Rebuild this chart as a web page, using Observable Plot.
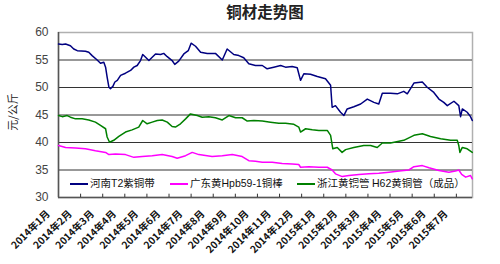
<!DOCTYPE html>
<html>
<head>
<meta charset="utf-8">
<script src="https://cdn.jsdelivr.net/npm/d3@7"></script>
<script src="https://cdn.jsdelivr.net/npm/@observablehq/plot@0.6"></script>
<style>
  body { margin: 0; background: #fff; font-family: "Liberation Sans", Arial, sans-serif; }
  #wrap { position: relative; width: 500px; height: 264px; overflow: hidden; }
  #title { height: 24px; line-height: 26px; text-align: center; padding-left: 30px; font: bold 15.5px "Noto Sans CJK SC", sans-serif; color: #222; }
  #ylab { position: absolute; left: 3px; top: 104px; transform: rotate(-90deg); transform-origin: center; font: 11px "Noto Sans CJK SC", sans-serif; color: #222; width: 40px; text-align: center; margin-left: -11px; }
  .leg { position: absolute; top: 175px; font: 10.5px "Noto Sans CJK SC", sans-serif; color: #111; line-height: 16px; white-space: nowrap; }
  .leg span.sw { display: inline-block; width: 18px; height: 2px; vertical-align: middle; margin-right: 2px; }
  .leg span.lt { font-family: "Liberation Sans", Arial, sans-serif; font-size: 10.5px; }
</style>
</head>
<body>
<div id="wrap">
  <div id="title">铜材走势图</div>
  <div id="chart"></div>
  <div id="ylab">元/公斤</div>
  <div id="legend"></div>
</div>
<script>
// Category labels (one per tick, month index 0..18)
const months = ["2014年1月","2014年2月","2014年3月","2014年4月","2014年5月","2014年6月","2014年7月","2014年8月","2014年9月","2014年10月","2014年11月","2014年12月","2015年1月","2015年2月","2015年3月","2015年4月","2015年5月","2015年6月","2015年7月"];
const yTicks = [30, 35, 40, 45, 50, 55, 60];
const seriesNames = ["河南T2紫铜带", "广东黄Hpb59-1铜棒", "浙江黄铜管", "H62黄铜管（成品）"];
const seriesColors = ["#000080", "#ff00ff", "#008000", "#ffffff"];

// [month position, price 元/公斤]
const henanT2 = [[0,57.9],[0.17,57.8],[0.32,57.9],[0.54,57.6],[0.69,57.0],[0.85,56.7],[1.22,56.6],[1.37,56.4],[1.52,55.8],[1.75,55.0],[1.90,54.4],[2.05,54.6],[2.13,53.7],[2.20,51.9],[2.28,50.05],[2.35,49.8],[2.46,50.2],[2.55,51.0],[2.66,51.3],[2.81,52.2],[3.03,52.6],[3.26,53.1],[3.41,53.7],[3.56,54.0],[3.71,54.9],[3.81,56.0],[3.94,55.5],[4.09,54.9],[4.24,55.5],[4.39,56.1],[4.62,56.0],[4.76,56.2],[4.92,55.6],[5.14,54.9],[5.26,54.2],[5.44,54.8],[5.67,56.1],[5.87,56.7],[6.00,58.05],[6.20,57.5],[6.43,56.4],[6.73,56.2],[7.10,56.2],[7.41,55.0],[7.63,57.0],[7.93,56.0],[8.16,55.8],[8.38,55.4],[8.61,54.3],[8.91,54.0],[9.22,54.0],[9.44,53.4],[9.74,53.7],[10.05,54.0],[10.27,53.7],[10.57,53.8],[10.80,53.6],[10.95,51.3],[11.10,52.5],[11.40,52.4],[11.71,52.0],[12.08,51.6],[12.31,50.4],[12.38,46.4],[12.53,46.7],[12.76,45.5],[12.91,44.9],[13.06,46.1],[13.36,46.5],[13.67,47.0],[13.97,47.9],[14.27,47.3],[14.49,47.0],[14.65,48.96],[15.02,48.96],[15.33,48.85],[15.62,49.3],[15.78,48.85],[16.08,50.8],[16.46,51.0],[16.68,50.05],[16.98,49.1],[17.21,47.9],[17.43,47.3],[17.59,46.7],[17.89,47.5],[18.11,46.7],[18.19,44.7],[18.27,46.1],[18.49,45.5],[18.64,44.7],[18.72,44.0]];
const guangdongHpb = [[0,39.45],[0.32,39.1],[0.77,39.0],[1.22,38.85],[1.67,38.5],[2.13,38.2],[2.28,37.8],[2.58,37.9],[3.03,37.8],[3.41,37.3],[3.79,37.45],[4.24,37.6],[4.69,37.8],[5.14,37.45],[5.37,37.15],[5.75,37.6],[6.05,38.2],[6.35,37.8],[6.95,37.45],[7.41,37.6],[7.86,37.8],[8.31,37.45],[8.61,36.7],[8.91,36.6],[9.22,36.4],[9.67,36.4],[10.12,36.2],[10.57,36.1],[10.87,36.0],[10.95,35.5],[11.33,35.6],[11.78,35.5],[12.16,35.5],[12.38,35.0],[12.53,34.3],[12.84,33.8],[13.14,34.0],[13.59,34.2],[14.04,34.3],[14.49,34.4],[14.95,34.6],[15.41,34.8],[15.85,35.0],[16.08,35.6],[16.46,35.8],[16.76,35.4],[17.21,34.9],[17.66,34.6],[17.96,34.8],[18.11,35.0],[18.24,34.2],[18.42,33.7],[18.64,34.0],[18.72,33.4]];
const zhejiang = [[0,44.9],[0.17,44.7],[0.39,44.9],[0.54,44.6],[0.77,44.3],[1.07,44.3],[1.37,44.1],[1.67,43.7],[1.90,43.1],[2.13,42.5],[2.20,41.0],[2.31,40.05],[2.50,40.4],[2.73,41.1],[3.03,41.9],[3.33,42.3],[3.63,42.8],[3.81,44.0],[4.01,43.4],[4.24,43.7],[4.47,44.0],[4.69,44.1],[4.92,43.7],[5.14,42.9],[5.29,42.8],[5.52,43.4],[5.75,44.3],[5.97,45.2],[6.28,44.9],[6.50,44.6],[6.80,44.7],[7.10,44.5],[7.41,44.1],[7.71,44.9],[8.01,44.5],[8.31,44.5],[8.54,43.9],[8.84,44.0],[9.22,43.9],[9.59,43.7],[9.97,43.5],[10.27,43.5],[10.65,43.3],[10.87,42.8],[10.95,41.9],[11.18,42.5],[11.48,42.3],[11.78,42.2],[12.16,42.2],[12.31,41.3],[12.41,38.85],[12.61,39.1],[12.83,38.2],[12.99,38.7],[13.36,39.1],[13.81,39.45],[14.12,39.45],[14.42,39.1],[14.65,39.9],[15.02,39.9],[15.62,40.4],[16.08,41.3],[16.46,41.6],[16.83,41.1],[17.29,40.7],[17.74,40.4],[18.04,40.4],[18.11,39.45],[18.16,38.2],[18.27,39.1],[18.49,38.85],[18.72,38.2]];

const tickIdx = months.map((m, i) => i);
const toRows = (arr) => arr.map(([t, v]) => ({t, v}));

const chart = Plot.plot({
  width: 500,
  height: 240,
  marginTop: 8,
  marginLeft: 58,
  marginRight: 28,
  marginBottom: 67,
  style: {fontFamily: "'Liberation Sans', Arial, sans-serif", background: "#fff", overflow: "visible"},
  x: {domain: [0, 18.73], axis: null},
  y: {domain: [30, 60], axis: null},
  marks: [
    Plot.frame({stroke: "#b0b0b0", strokeWidth: 1.5}),
    Plot.ruleY([35, 40, 45, 50, 55], {stroke: "#333", strokeWidth: 1}),
    Plot.ruleY([30], {stroke: "#555", strokeWidth: 1.5}),
    Plot.ruleX([0], {stroke: "#555", strokeWidth: 1.5}),
    Plot.ruleX(tickIdx.slice(1), {x: d => d, y1: 30, y2: 30.6, stroke: "#333"}),
    Plot.axisY({ticks: yTicks, tickSize: 0, tickPadding: 10, fontSize: 12, fill: "#444", label: null, tickFormat: d => String(d)}),
    Plot.line(toRows(henanT2), {x: "t", y: "v", stroke: seriesColors[0], strokeWidth: 1.5}),
    Plot.line(toRows(zhejiang), {x: "t", y: "v", stroke: seriesColors[2], strokeWidth: 1.5}),
    Plot.line(toRows(guangdongHpb), {x: "t", y: "v", stroke: seriesColors[1], strokeWidth: 1.5}),
    Plot.text(tickIdx, {x: d => d, text: d => months[d], frameAnchor: "bottom", dy: 17, dx: -8, rotate: -45, textAnchor: "end", fontSize: 10, fill: "#111", fontFamily: "'Noto Sans CJK SC', sans-serif", fontWeight: "bold"})
  ]
});
document.getElementById("chart").appendChild(chart);

// legend inside the plot area
const legPos = [70, 170, 297, 352];
const legend = document.getElementById("legend");
seriesNames.forEach((name, i) => {
  const d = document.createElement("div");
  d.className = "leg";
  d.style.left = legPos[i] + "px";
  const label = name.replace(/([A-Za-z0-9\-]+)/g, '<span class="lt">$1</span>');
  d.innerHTML = `<span class="sw" style="background:${seriesColors[i]}"></span>${label}`;
  legend.appendChild(d);
});
</script>
</body>
</html>
